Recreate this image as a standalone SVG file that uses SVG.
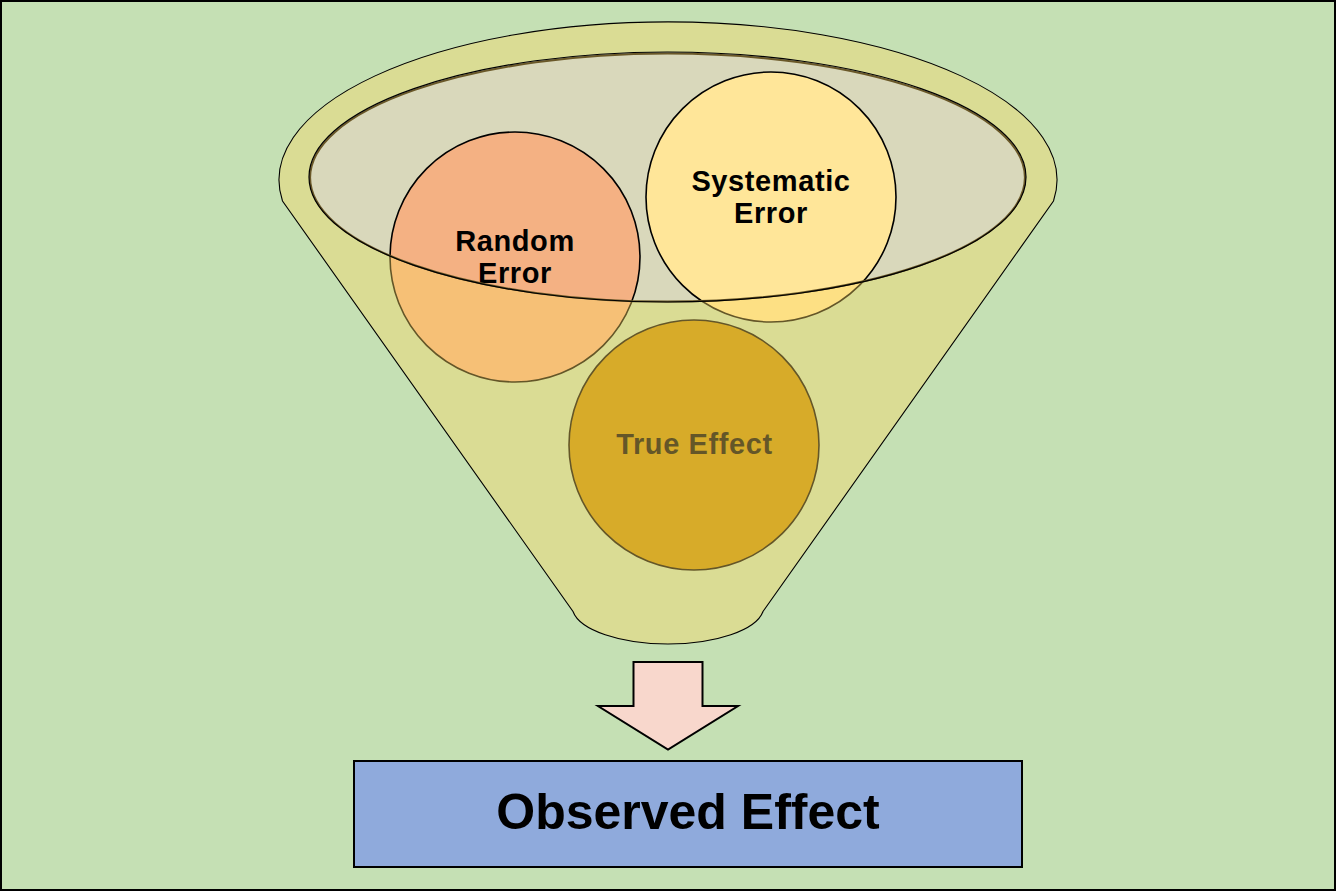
<svg xmlns="http://www.w3.org/2000/svg" width="1336" height="891" viewBox="0 0 1336 891">
<style>
.lbl{font-family:"Liberation Sans",Arial,sans-serif;font-weight:bold;fill:#000;text-anchor:middle}
.circ{stroke:#000;stroke-width:1.6}
</style>
<rect x="1" y="1" width="1334" height="889" fill="#C5E0B4" stroke="#000" stroke-width="2"/>
<g id="funnel-top">
<ellipse cx="667.5" cy="177" rx="358.5" ry="125" fill="#D9D8BB"/>
</g>
<g id="random-error">
<circle class="circ" cx="515" cy="257" r="125" fill="#F4B183"/>
<text class="lbl" x="515" y="251" font-size="29" letter-spacing="0.6">Random</text>
<text class="lbl" x="515" y="283" font-size="29" letter-spacing="0.6">Error</text>
</g>
<g id="systematic-error">
<circle class="circ" cx="771" cy="197" r="125" fill="#FFE699"/>
<text class="lbl" x="771" y="191" font-size="29" letter-spacing="0.6">Systematic</text>
<text class="lbl" x="771" y="223" font-size="29" letter-spacing="0.6">Error</text>
</g>
<g id="true-effect">
<circle class="circ" cx="694" cy="445" r="125" fill="#C08E02"/>
<text class="lbl" x="694.5" y="454" font-size="29" letter-spacing="0.6">True Effect</text>
</g>
<g id="funnel">
<path d="M282.5,201 A389,158 0 1 1 1053.5,201 L763,611.5 A96,38 0 0 1 573,611.5 Z M309,177 A358.5,125 0 1 0 1026,177 A358.5,125 0 1 0 309,177 Z" fill="#FAD864" fill-opacity="0.4" fill-rule="evenodd" stroke="none"/>
<path d="M282.5,201 A389,158 0 1 1 1053.5,201 L763,611.5 A96,38 0 0 1 573,611.5 Z" fill="none" stroke="#000" stroke-width="1.1"/>
<ellipse cx="667.5" cy="177.6" rx="357.4" ry="124" fill="none" stroke="#6A5828" stroke-width="2"/>
<ellipse cx="667.5" cy="177" rx="358.5" ry="125" fill="none" stroke="#000" stroke-width="1.2"/>
</g>
<g id="connectors">
<path d="M633.5,662 L702.5,662 L702.5,706 L738,706 L668,749.5 L598,706 L633.5,706 Z" fill="#F8D7CC" stroke="#000" stroke-width="2"/>
</g>
<g id="observed-effect">
<rect x="354" y="761" width="668" height="106" fill="#8FAADC" stroke="#000" stroke-width="2"/>
<text class="lbl" x="688" y="829" font-size="50">Observed Effect</text>
</g>
</svg>
